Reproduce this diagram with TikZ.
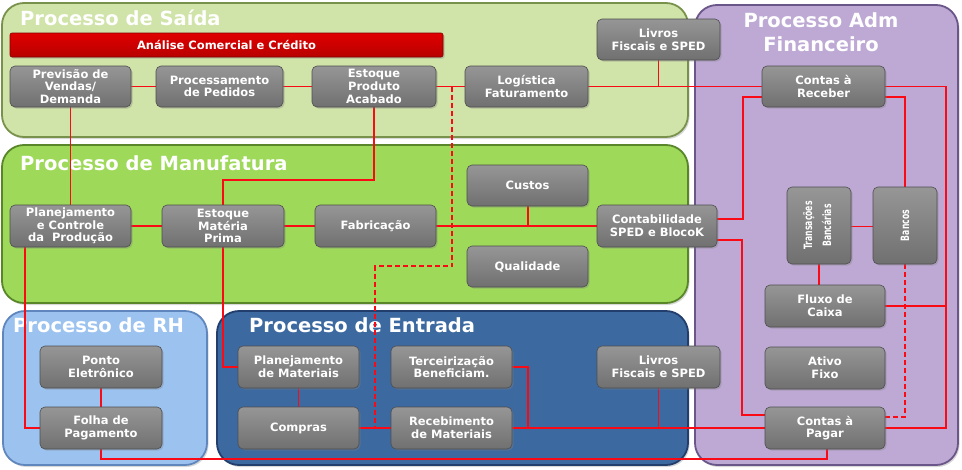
\documentclass[tikz,border=0pt]{standalone}
\usepackage{fontspec}
\setmainfont{DejaVu Sans}
\usetikzlibrary{shadows}
\pgfdeclarelayer{bg}
\pgfdeclarelayer{wires}
\pgfsetlayers{bg,wires,main}
\definecolor{saidaF}{RGB}{208,227,168}
\definecolor{saidaD}{RGB}{120,146,76}
\definecolor{manuF}{RGB}{158,217,90}
\definecolor{manuD}{RGB}{88,134,40}
\definecolor{rhF}{RGB}{156,195,240}
\definecolor{rhD}{RGB}{96,134,190}
\definecolor{entF}{RGB}{60,105,160}
\definecolor{entD}{RGB}{34,62,108}
\definecolor{admF}{RGB}{189,169,212}
\definecolor{admD}{RGB}{106,86,136}
\definecolor{wireC}{RGB}{250,10,20}
\definecolor{nodeT}{RGB}{150,150,150}
\definecolor{nodeB}{RGB}{112,112,112}
\definecolor{nodeD}{RGB}{78,78,78}
\begin{document}
\begin{tikzpicture}[x=1pt,y=-1pt,
  region/.style={rounded corners=22pt, line width=1.8pt,
    drop shadow={opacity=0.3, shadow xshift=1.5pt, shadow yshift=-2pt}},
  rtitle/.style={text=white, font=\fontsize{19.5}{22}\selectfont\bfseries, inner sep=0pt},
  gbox/.style={rounded corners=5pt, draw=nodeD, line width=0.6pt,
    top color=nodeT, bottom color=nodeB, inner sep=1pt,
    text=white, align=center, font=\fontsize{11.5}{12.7}\selectfont\bfseries,
    drop shadow={opacity=0.35, shadow xshift=1.5pt, shadow yshift=-1.5pt}},
  redbar/.style={rounded corners=2pt, draw=red!50!black, line width=0.6pt,
    top color=red!88!black, bottom color=red!72!black,
    text=white, font=\fontsize{11.5}{12.7}\selectfont\bfseries,
    drop shadow={opacity=0.35, shadow xshift=1.5pt, shadow yshift=-1.5pt}},
  wire/.style={draw=wireC, line width=1.5pt},
  dwire/.style={wire, dash pattern=on 5pt off 3pt}]
\useasboundingbox (0,0) rectangle (962,469);
\begin{pgfonlayer}{bg}
  \fill[white] (0,0) rectangle (962,469);
  \filldraw[region, fill=saidaF, draw=saidaD] (2,3) rectangle (688,137);
  \filldraw[region, fill=manuF, draw=manuD] (2,145) rectangle (688,303);
  \filldraw[region, fill=rhF, draw=rhD] (3,311) rectangle (207,465);
  \filldraw[region, fill=entF, draw=entD] (217,311) rectangle (688,465);
  \filldraw[region, fill=admF, draw=admD] (695,5) rectangle (958,465);
  \node[rtitle, anchor=west] (tsaida) at (20,18) {Processo de Saída};
  \node[rtitle, anchor=west] (tmanu) at (20,163) {Processo de Manufatura};
  \node[rtitle, anchor=west] (trh) at (13,325) {Processo de RH};
  \node[rtitle, anchor=west] (tent) at (249,325) {Processo de Entrada};
  \node[rtitle, align=center, font=\fontsize{19.5}{24}\selectfont\bfseries] (tadm) at (821,32) {Processo Adm\\Financeiro};
\end{pgfonlayer}

% red bar
\node[redbar, minimum width=433pt, minimum height=24pt] (analise) at (226.5,45) {Análise Comercial e Crédito};

% Saida
\node[gbox, minimum width=121pt, minimum height=41pt] (prev) at (70.5,86.5) {Previsão de\\Vendas/\\Demanda};
\node[gbox, minimum width=127pt, minimum height=41pt] (proc) at (219.5,86.5) {Processamento\\de Pedidos};
\node[gbox, minimum width=124pt, minimum height=41pt] (estpa) at (374,86.5) {Estoque\\Produto\\Acabado};
\node[gbox, minimum width=123pt, minimum height=41pt] (logi) at (526.5,86.5) {Logística\\Faturamento};
\node[gbox, minimum width=123pt, minimum height=41pt] (livros1) at (658.5,39.5) {Livros\\Fiscais e SPED};
\node[gbox, minimum width=123pt, minimum height=41pt] (creceber) at (823.5,86.5) {Contas à\\Receber};

% Manufatura
\node[gbox, minimum width=121pt, minimum height=42pt] (pcp) at (70.5,226) {Planejamento\\e Controle\\da~~Produção};
\node[gbox, minimum width=122pt, minimum height=42pt] (estmp) at (223,226) {Estoque\\Matéria\\Prima};
\node[gbox, minimum width=121pt, minimum height=42pt] (fab) at (375.5,226) {Fabricação};
\node[gbox, minimum width=121pt, minimum height=41pt] (custos) at (527.5,185.5) {Custos};
\node[gbox, minimum width=121pt, minimum height=41pt] (qual) at (527.5,266.5) {Qualidade};
\node[gbox, minimum width=120pt, minimum height=42pt] (contab) at (657,226) {Contabilidade\\SPED e BlocoK};

% Adm
\node[gbox, minimum width=64pt, minimum height=77pt] (trans) at (819,225.5) {\rotatebox{90}{\begin{tabular}{@{}c@{}}\scalebox{0.67}[1]{Transações}\\[6pt]\scalebox{0.67}[1]{Bancárias}\end{tabular}}};
\node[gbox, minimum width=64pt, minimum height=77pt] (bancos) at (905,225.5) {\rotatebox{90}{\scalebox{0.67}[1]{Bancos}}};
\node[gbox, minimum width=120pt, minimum height=42pt] (fluxo) at (825,306) {Fluxo de\\Caixa};
\node[gbox, minimum width=120pt, minimum height=42pt] (ativo) at (825,368) {Ativo\\Fixo};
\node[gbox, minimum width=120pt, minimum height=42pt] (cpagar) at (825,428) {Contas à\\Pagar};

% RH
\node[gbox, minimum width=122pt, minimum height=42pt] (ponto) at (101,367) {Ponto\\Eletrônico};
\node[gbox, minimum width=122pt, minimum height=42pt] (folha) at (101,428) {Folha de\\Pagamento};

% Entrada
\node[gbox, minimum width=121pt, minimum height=42pt] (planmat) at (298.5,367) {Planejamento\\de Materiais};
\node[gbox, minimum width=121pt, minimum height=42pt] (compras) at (298.5,428) {Compras};
\node[gbox, minimum width=121pt, minimum height=42pt] (terc) at (451.5,367) {Terceirização\\Beneficiam.};
\node[gbox, minimum width=121pt, minimum height=42pt] (receb) at (451.5,428) {Recebimento\\de Materiais};
\node[gbox, minimum width=123pt, minimum height=42pt] (livros2) at (658.5,367) {Livros\\Fiscais e SPED};

% bend points
\coordinate (k1) at (223,180);
\coordinate (d1) at (452,86.5);
\coordinate (d2) at (452,266);
\coordinate (d3) at (375,266);
\coordinate (k2) at (25,428);
\coordinate (k3) at (528,428);
\coordinate (k4) at (827,459);
\coordinate (k5) at (743,219);
\coordinate (k6) at (743,97);
\coordinate (k7) at (742,240);
\coordinate (k8) at (742,415);
\coordinate (k10) at (946,428);
\coordinate (k11) at (905,417);
\coordinate (kc) at (528,226);

\begin{pgfonlayer}{wires}
  \draw[wire] (prev) -- (proc);
  \draw[wire] (proc) -- (estpa);
  \draw[wire] (estpa) -- (logi);
  \draw[wire] (logi) -- (creceber);
  \draw[wire] (livros1.south) -- (livros1.south |- logi);
  \draw[wire] (prev) -- (pcp);
  \draw[wire] (estpa.south) |- (k1) -- (estmp.north);
  \draw[dwire] (d1) -- (d2) -- (d3) -- (d3 |- compras);
  \draw[wire] (pcp) -- (estmp);
  \draw[wire] (estmp) -- (fab);
  \draw[wire] (fab) -- (contab);
  \draw[wire] (custos.south -| kc) -- (kc);
  \draw[wire] (pcp.south -| k2) -- (k2) -- (folha.west);
  \draw[wire] (estmp.south) |- (planmat.west);
  \draw[wire] (ponto) -- (folha);
  \draw[wire] (planmat) -- (compras);
  \draw[wire] (compras) -- (receb);
  \draw[wire] (terc.east) -| (k3);
  \draw[wire] (receb) -- (cpagar);
  \draw[wire] (livros2.south) -- (livros2.south |- receb);
  \draw[wire] (folha.south) |- (k4) -- (k4 |- cpagar.south);
  \draw[wire] (contab.east |- k5) -- (k5) -- (k6) -- (creceber.west |- k6);
  \draw[wire] (contab.east |- k7) -- (k7) -- (k8) -- (cpagar.west |- k8);
  \draw[wire] (creceber.east) -| (k10) -- (cpagar.east);
  \draw[wire] (fluxo.east) -- (fluxo.east -| k10);
  \draw[wire] (creceber.east |- k6) -| (bancos.north);
  \draw[wire] (trans.east |- 0,226.5) -- (bancos.west |- 0,226.5);
  \draw[wire] (trans.south) -- (trans.south |- fluxo.north);
  \draw[dwire] (bancos.south) -- (k11) -- (cpagar.east |- k11);
\end{pgfonlayer}
\end{tikzpicture}
\end{document}
